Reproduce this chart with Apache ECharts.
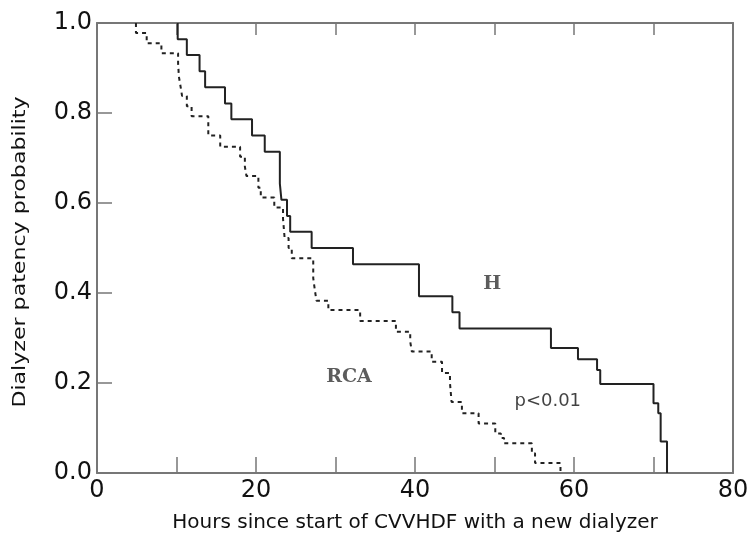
<!DOCTYPE html>
<html lang="en">
<head>
  <meta charset="UTF-8">
  <title>Dialyzer patency</title>
  <script src="https://cdn.jsdelivr.net/npm/echarts@6/dist/echarts.min.js"></script>
  <style>
    html, body { margin: 0; padding: 0; background: #fff; }
    #main { width: 747px; height: 538px; }
  </style>
</head>
<body>
  <div id="main"></div>
  <script type="text/javascript">
    // H group (solid): event time, survival after event
    var hTimes = [10.15, 10.15, 11.3, 12.9, 13.6, 16.1, 16.9, 19.5, 21.1, 23.0, 23.2, 23.9, 24.3, 27.0, 32.2, 40.5, 44.7, 45.6, 57.1, 60.5, 62.9, 63.3, 70.0, 70.6, 70.9, 71.7];
    var hSurv  = [1.0, 0.964, 0.929, 0.893, 0.857, 0.821, 0.786, 0.75, 0.714, 0.643, 0.607, 0.571, 0.536, 0.5, 0.464, 0.393, 0.357, 0.321, 0.278, 0.253, 0.229, 0.198, 0.155, 0.133, 0.07, 0.0];

    // RCA group (dashed)
    var rcaTimes = [4.9, 4.9, 6.25, 8.1, 10.2, 10.3, 10.5, 10.7, 11.3, 11.9, 14.0, 15.5, 18.0, 18.6, 18.8, 20.3, 20.6, 22.3, 23.4, 23.6, 24.1, 24.5, 27.2, 27.4, 27.6, 29.1, 33.1, 37.6, 39.4, 39.6, 42.1, 43.4, 44.4, 44.6, 45.9, 48.0, 50.1, 50.8, 51.2, 54.7, 55.1, 58.3];
    var rcaSurv  = [1.0, 0.978, 0.955, 0.933, 0.911, 0.881, 0.86, 0.838, 0.815, 0.793, 0.75, 0.725, 0.703, 0.681, 0.66, 0.634, 0.612, 0.59, 0.565, 0.522, 0.5, 0.477, 0.433, 0.407, 0.383, 0.362, 0.338, 0.314, 0.292, 0.27, 0.247, 0.222, 0.2, 0.158, 0.133, 0.11, 0.088, 0.078, 0.066, 0.044, 0.022, 0.0];

    // annotations
    var noteText = ['H', 'RCA', 'p<0.01'];
    var noteX = [49.7, 31.7, 56.7];
    var noteY = [0.42, 0.213, 0.16];

    var xTicks = [0, 20, 40, 60, 80];

    function pairs(xs, ys) {
      return xs.map(function (x, i) { return [x, ys[i]]; });
    }

    var axisLine = { show: true, onZero: false, lineStyle: { color: '#777', width: 2 } };
    var font = 'DejaVu Sans, sans-serif';
    var serif = 'DejaVu Serif, Liberation Serif, serif';

    var option = {
      backgroundColor: '#fff',
      animation: false,
      grid: { left: 97, right: 14, top: 23, bottom: 65, outerBoundsMode: 'none', containLabel: false },
      xAxis: [{
        type: 'value', min: 0, max: 80, interval: 10, position: 'bottom',
        axisLine: axisLine,
        axisTick: { show: true, inside: true, length: 16, lineStyle: { color: '#777', width: 1.5 } },
        splitLine: { show: false },
        axisLabel: {
          color: '#111', fontSize: 24, fontFamily: font, margin: 6,
          formatter: function (v) { return xTicks.indexOf(v) >= 0 ? String(v) : ''; }
        },
        name: 'Hours since start of CVVHDF with a new dialyzer',
        nameLocation: 'middle', nameGap: 40,
        nameTextStyle: { color: '#111', fontSize: 20, fontFamily: font }
      }, {
        type: 'value', min: 0, max: 80, interval: 10, position: 'top',
        axisLine: axisLine,
        axisTick: { show: true, inside: true, length: 12, lineStyle: { color: '#777', width: 1.5 } },
        axisLabel: { show: false }, splitLine: { show: false }
      }],
      yAxis: [{
        type: 'value', min: 0, max: 1, interval: 0.2, position: 'left',
        axisLine: axisLine,
        axisTick: { show: true, inside: true, length: 15, lineStyle: { color: '#777', width: 1.5 } },
        splitLine: { show: false },
        axisLabel: {
          color: '#111', fontSize: 24, fontFamily: font, margin: 5,
          formatter: function (v) { return v.toFixed(1); }
        }
      }, {
        type: 'value', min: 0, max: 1, interval: 0.2, position: 'right',
        axisLine: axisLine,
        axisTick: { show: false },
        axisLabel: { show: false }, splitLine: { show: false }
      }],
      // y axis title, stretched along its length like the original
      graphic: [{
        type: 'text', x: 21, y: 252, rotation: Math.PI / 2, scaleX: 1.3,
        style: {
          text: 'Dialyzer patency probability', fill: '#111',
          font: '17px DejaVu Sans, sans-serif', align: 'center', verticalAlign: 'middle'
        }
      }],
      series: [
        {
          name: 'H', type: 'line', step: 'end', showSymbol: false,
          data: pairs(hTimes, hSurv),
          lineStyle: { color: '#222', width: 2 }
        },
        {
          name: 'RCA', type: 'line', step: 'end', showSymbol: false,
          data: pairs(rcaTimes, rcaSurv),
          lineStyle: { color: '#222', width: 2, type: [4, 4] }
        },
        {
          name: 'notes', type: 'scatter', symbolSize: 0, silent: true,
          data: noteText.map(function (t, i) {
            var isP = t === 'p<0.01';
            return {
              value: [noteX[i], noteY[i]], name: t,
              label: isP
                ? { fontFamily: font, fontSize: 18, fontWeight: 'normal', color: '#111' }
                : { fontFamily: serif, fontSize: 19, fontWeight: 'bold', color: '#333' }
            };
          }),
          label: {
            show: true, position: 'inside',
            formatter: function (p) { return p.name; }
          }
        }
      ]
    };

    var myChart = echarts.init(document.getElementById('main'));
    myChart.setOption(option);
  </script>
</body>
</html>
